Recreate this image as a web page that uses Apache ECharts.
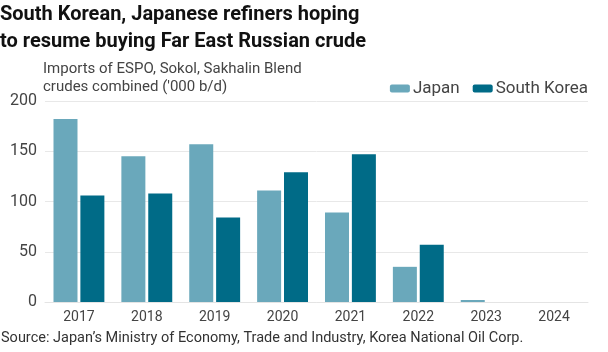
<!DOCTYPE html>
<html><head><meta charset="utf-8">
<script src="https://cdn.jsdelivr.net/npm/echarts@6/dist/echarts.min.js"></script>
<style>html,body{margin:0;padding:0;background:#fff}#c{width:608px;height:352px}</style>
</head><body><div id="c"></div>
<script>
const categories = ['2017','2018','2019','2020','2021','2022','2023','2024'];
const japan = [182, 145, 157, 111, 89, 35, 2, 0];
const southKorea = [106, 108, 84, 129, 147, 57, 0, 0];
const yTicks = [0, 50, 100, 150, 200];
const titleText = 'South Korean, Japanese refiners hoping\nto resume buying Far East Russian crude';
const subtitleText = "Imports of ESPO, Sokol, Sakhalin Blend\ncrudes combined ('000 b/d)";
const sourceText = "Source: Japan\u2019s Ministry of Economy, Trade and Industry, Korea National Oil Corp.";

const FONT = 'Roboto';
const chart = echarts.init(document.getElementById('c'), null, {renderer:'canvas'});
chart.setOption({
  animation:false,
  textStyle:{fontFamily:FONT},
  title:[
    {text:titleText, left:0, top:1, padding:0, textStyle:{fontFamily:FONT, fontSize:20, fontWeight:'bold', color:'#111', lineHeight:27}},
    {text:subtitleText, left:43, top:60, padding:0, textStyle:{fontFamily:FONT, fontSize:15, fontWeight:'normal', color:'#444', lineHeight:18}},
    {text:sourceText, left:1, top:331, padding:0, textStyle:{fontFamily:FONT, fontSize:14.5, fontWeight:'normal', color:'#333'}}
  ],
  legend:{
    right:20, top:80, padding:0, itemWidth:20, itemHeight:8, itemGap:13,
    textStyle:{fontFamily:FONT, fontSize:17, color:'#444', padding:[0,0,0,-2]},
    data:['Japan','South Korea']
  },
  grid:{left:45, right:20, top:101, bottom:50},
  xAxis:{
    type:'category', data:categories,
    axisLine:{show:true, lineStyle:{color:'#e4e4e4'}},
    axisTick:{show:false},
    axisLabel:{fontFamily:FONT, fontSize:14, color:'#444', margin:8}
  },
  yAxis:{
    type:'value', min:0, max:200, interval:50,
    axisLabel:{fontFamily:FONT, fontSize:16, color:'#444', margin:8,
      formatter:v=> yTicks.includes(v)? String(v):''},
    splitLine:{lineStyle:{color:'#e8e8e8'}},
    axisLine:{show:false}, axisTick:{show:false}
  },
  series:[
    {name:'Japan', type:'bar', data:japan, barWidth:24, barGap:'12%', itemStyle:{color:'#6aa8bb'}},
    {name:'South Korea', type:'bar', data:southKorea, barWidth:24, itemStyle:{color:'#006b87'}}
  ]
});
</script></body></html>
